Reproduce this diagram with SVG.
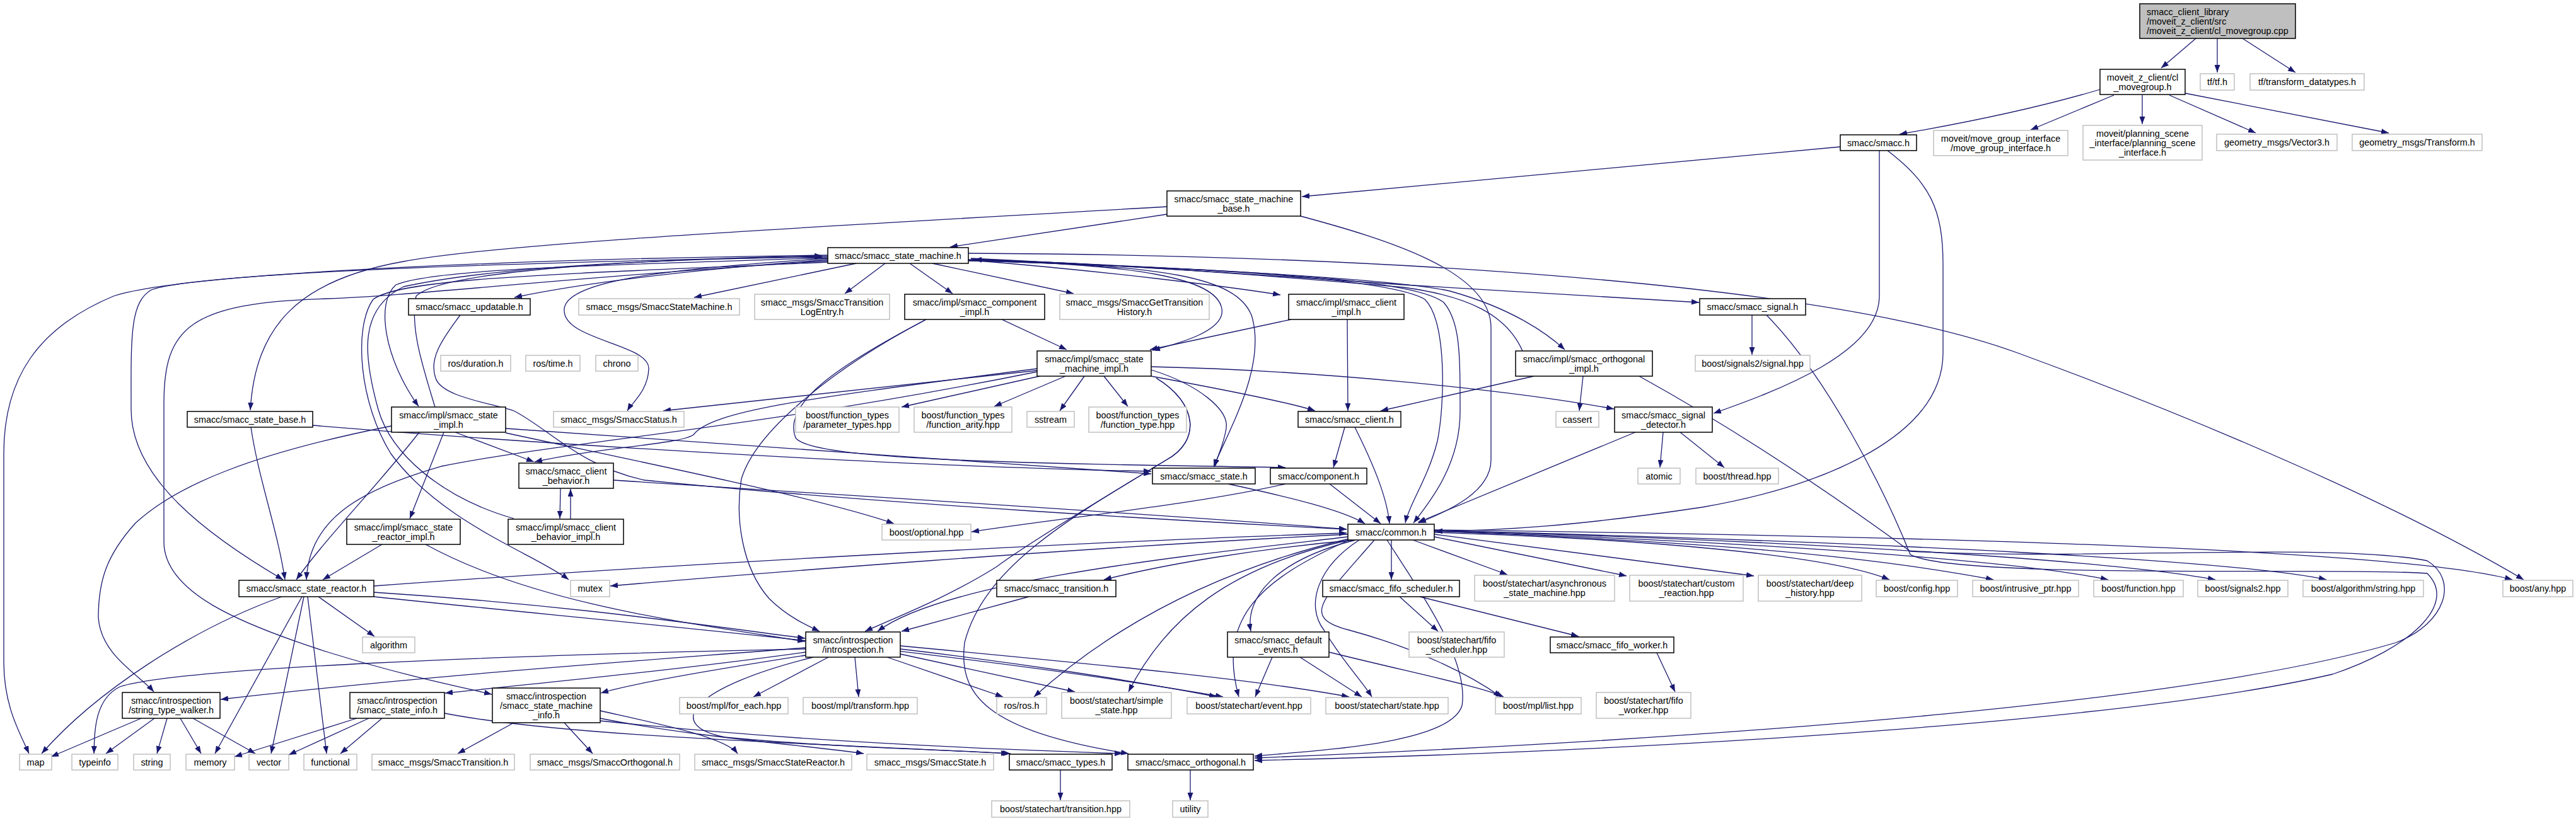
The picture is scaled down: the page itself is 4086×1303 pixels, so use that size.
<svg xmlns="http://www.w3.org/2000/svg" width="4086" height="1303" viewBox="0 0 4086 1303">
<defs>
<marker id="a" viewBox="0 0 12 9" refX="12" refY="4.5" markerWidth="12" markerHeight="9" orient="auto" markerUnits="userSpaceOnUse"><path d="M0,0 L12,4.5 L0,9 z" fill="#191970"/></marker>
<style>
text{font-family:"Liberation Sans",Arial,sans-serif;font-size:14.4px;fill:#000;text-anchor:middle}
.n rect{fill:#fff;stroke:#000;stroke-width:1.5}
.g rect{fill:#fff;stroke:#c0c0c0;stroke-width:1.5}
.r rect{fill:#bfbfbf;stroke:#000;stroke-width:1.5}
.r text{text-anchor:start}
#edges path{fill:none;stroke:#191970;stroke-width:1.3;marker-end:url(#a)}
</style>
</defs>
<rect width="4086" height="1303" fill="#fff"/>
<g id="edges">
<path d="M3483,61 L3428,108"/>
<path d="M3517,61 L3517,115"/>
<path d="M3557,61 L3641,115"/>
<path d="M3331,142 C3220,175 3100,198 3013,213"/>
<path d="M3353,151 L3221,206"/>
<path d="M3398,151 L3398,197"/>
<path d="M3441,151 L3578,211"/>
<path d="M3466,148 L3789,211"/>
<path d="M2919,233 L2065,312"/>
<path d="M2981,239 L2981,470 C2981,560 2820,620 2718,656"/>
<path d="M2994,239 C3060,290 3082,330 3082,420 L3082,560 C3082,690 2900,770 2700,805 C2500,835 2380,842 2276,843"/>
<path d="M1851,340 L1507,392"/>
<path d="M1851,328 C1300,360 800,385 640,415 C470,445 405,520 397,651"/>
<path d="M2063,343 C2200,380 2365,430 2365,520 L2365,730 C2365,780 2300,810 2250,830"/>
<path d="M1313,412 C1100,428 930,448 816,472"/>
<path d="M1358,418 L1101,472"/>
<path d="M1404,418 L1340,466"/>
<path d="M1443,418 L1511,466"/>
<path d="M1479,418 L1703,466"/>
<path d="M1540,413 C1750,430 1950,455 2031,468"/>
<path d="M1540,410 C1750,420 1950,432 2226,452 C2400,462 2550,470 2695,480"/>
<path d="M1540,411 C1800,422 2200,440 2300,462 C2400,490 2455,530 2482,555"/>
<path d="M2415,557 C2390,500 2330,470 2226,456 C2000,436 1750,418 1545,412"/>
<path d="M1536,412 C1800,420 1930,440 1938,490 C1944,525 1870,545 1828,556"/>
<path d="M1313,410 C1100,425 900,440 895,490 C890,540 1030,545 1029,585 C1028,620 1002,640 995,652"/>
<path d="M1313,409 C1000,420 690,425 628,452 C595,480 610,570 664,645"/>
<path d="M1313,407 C900,415 320,430 240,460 C205,480 208,540 208,650 C208,760 330,850 449,920"/>
<path d="M1313,405 C900,410 300,430 180,470 C60,520 6,600 6,720 L6,1050 C6,1120 30,1160 46,1196"/>
<path d="M1313,414 C900,440 650,470 520,474 C300,480 260,520 260,640 L260,860 C260,940 380,990 520,1035 C650,1075 730,1090 780,1102"/>
<path d="M1313,416 C900,435 640,440 592,475 C560,520 570,640 620,720 C700,830 850,880 902,920"/>
<path d="M1536,402 C2200,405 2900,450 3200,560 C3500,670 3800,800 4003,920"/>
<path d="M1536,414 C1850,420 1960,440 1985,500 C2010,580 1950,680 1925,741"/>
<path d="M1536,413 C1900,425 2200,440 2260,475 C2295,510 2292,640 2280,700 C2265,760 2235,800 2229,830"/>
<path d="M1536,413 C1950,428 2240,440 2290,480 C2316,510 2316,560 2316,653 C2316,740 2265,800 2242,830"/>
<path d="M815,823 C700,790 620,720 600,650 C575,560 570,490 640,455 C800,420 1100,410 1304,408"/>
<path d="M690,646 C670,580 650,520 660,470 C700,430 1000,412 1304,406"/>
<path d="M730,500 C700,540 680,570 691,600 C700,630 780,640 815,652 C870,680 920,740 1022,762 C1400,800 1900,828 2136,840"/>
<path d="M1469,507 C1330,580 1240,640 1262,695 C1290,730 1600,735 2039,742"/>
<path d="M1469,507 C1330,580 1200,680 1176,760 C1166,820 1176,900 1220,950 C1250,980 1285,995 1300,1002"/>
<path d="M1589,507 L1692,555"/>
<path d="M2048,507 L1824,555"/>
<path d="M2137,507 L2138,652"/>
<path d="M2433,597 L2190,652"/>
<path d="M2511,597 L2505,652"/>
<path d="M2600,597 C2750,680 2900,780 3030,875 C3300,890 3700,860 3850,890 C3900,920 3880,990 3800,1020 C3500,1110 2800,1170 1990,1203"/>
<path d="M2802,500 C2900,600 2990,780 3030,880 C3100,920 3700,900 3850,910 C3900,960 3820,1030 3700,1070 C3400,1140 2700,1190 1990,1207"/>
<path d="M2779,500 L2779,563"/>
<path d="M2594,686 L2249,829"/>
<path d="M2638,686 L2633,742"/>
<path d="M2665,686 L2735,742"/>
<path d="M2133,678 L2115,742"/>
<path d="M2149,678 C2180,740 2200,790 2204,831"/>
<path d="M2109,768 L2190,831"/>
<path d="M2039,768 C1900,800 1700,820 1541,844"/>
<path d="M1649,597 L1430,646"/>
<path d="M1690,597 L1577,645"/>
<path d="M1720,597 L1681,652"/>
<path d="M1751,597 L1789,645"/>
<path d="M1645,588 L1052,652"/>
<path d="M1826,587 C1900,610 1950,650 1945,680 C1940,710 1930,725 1927,741"/>
<path d="M1826,582 C2100,588 2400,620 2560,649"/>
<path d="M1826,597 C1950,620 2050,640 2086,652"/>
<path d="M1834,600 C1900,640 1905,700 1850,730 C1700,820 1560,900 1530,1020 C1520,1100 1560,1160 1790,1196"/>
<path d="M1834,600 C1900,640 1905,700 1850,730 C1700,820 1620,870 1580,900 C1500,950 1420,980 1372,1002"/>
<path d="M1645,585 C1300,630 1130,650 1100,690 C1080,705 950,710 848,733"/>
<path d="M1645,590 C1200,680 900,700 700,740 C560,780 490,830 486,920"/>
<path d="M722,686 L847,733"/>
<path d="M704,686 L650,823"/>
<path d="M665,686 C600,770 520,850 470,920"/>
<path d="M621,676 C400,720 280,770 215,830 C170,880 156,920 156,980 C160,1040 220,1070 244,1098"/>
<path d="M802,680 C1100,700 1500,730 1826,752"/>
<path d="M802,687 C1000,730 1300,790 1418,831"/>
<path d="M495,675 C800,700 1400,740 1826,748"/>
<path d="M398,678 C410,760 440,840 452,920"/>
<path d="M889,775 L888,823"/>
<path d="M905,824 L905,776"/>
<path d="M973,762 C1400,790 1900,820 2136,840"/>
<path d="M606,864 L512,920"/>
<path d="M675,864 C850,960 1100,990 1277,1018"/>
<path d="M505,947 L594,1010"/>
<path d="M447,947 C300,1000 150,1100 66,1196"/>
<path d="M479,947 L341,1196"/>
<path d="M482,947 L430,1196"/>
<path d="M488,947 L518,1196"/>
<path d="M593,940 C900,960 1100,990 1277,1013"/>
<path d="M593,947 C1000,990 1500,1030 1940,1106"/>
<path d="M593,930 C1000,900 1700,860 2136,846"/>
<path d="M1314,1043 L1195,1106"/>
<path d="M1356,1043 L1362,1106"/>
<path d="M1407,1043 L1591,1106"/>
<path d="M1428,1038 L1705,1098"/>
<path d="M1428,1030 C1600,1050 1800,1080 1930,1106"/>
<path d="M1428,1025 C1800,1060 2000,1080 2140,1106"/>
<path d="M1278,1030 C800,1040 280,1060 190,1090 C150,1110 150,1160 149,1196"/>
<path d="M1278,1028 C1000,1050 700,1070 350,1110"/>
<path d="M1278,1035 C1100,1060 900,1080 706,1100"/>
<path d="M1278,1040 C1150,1060 1000,1085 953,1100"/>
<path d="M1290,1043 C1100,1090 1050,1150 1150,1170 C1300,1185 1500,1190 1603,1196"/>
<path d="M1632,947 L1430,1002"/>
<path d="M2018,1043 L1991,1106"/>
<path d="M2062,1043 L2160,1106"/>
<path d="M2108,1035 C2250,1070 2350,1090 2385,1106"/>
<path d="M2220,947 L2281,1002"/>
<path d="M2252,947 L2504,1010"/>
<path d="M2628,1036 L2657,1098"/>
<path d="M1682,1222 L1682,1270"/>
<path d="M1888,1222 L1888,1270"/>
<path d="M224,1140 L81,1201"/>
<path d="M245,1140 L168,1196"/>
<path d="M265,1140 L249,1196"/>
<path d="M286,1140 L319,1196"/>
<path d="M306,1140 L405,1196"/>
<path d="M566,1140 L372,1201"/>
<path d="M585,1140 L458,1198"/>
<path d="M606,1140 L540,1196"/>
<path d="M705,1132 C900,1170 1300,1180 1600,1196"/>
<path d="M815,1147 L726,1196"/>
<path d="M895,1147 L940,1196"/>
<path d="M952,1128 C1050,1150 1150,1170 1170,1196"/>
<path d="M952,1140 C1100,1170 1300,1185 1370,1196"/>
<path d="M952,1144 C1200,1170 1450,1185 1780,1196"/>
<path d="M2138,848 C1700,870 1200,910 968,930"/>
<path d="M2138,852 C1900,880 1500,920 1392,1002"/>
<path d="M2150,857 C2000,870 1850,895 1751,920"/>
<path d="M2207,857 L2207,920"/>
<path d="M2241,857 L2391,912"/>
<path d="M2275,852 L2580,914"/>
<path d="M2275,848 L2782,914"/>
<path d="M2275,845 C2600,855 2900,880 2997,920"/>
<path d="M2275,843 C2700,860 2950,880 3162,920"/>
<path d="M2275,843 C2800,860 3200,890 3344,920"/>
<path d="M2275,842 C2900,860 3350,890 3514,920"/>
<path d="M2275,842 C3000,860 3550,890 3690,920"/>
<path d="M2275,841 C3000,850 3800,870 3985,920"/>
<path d="M2150,857 C2020,890 1975,950 1984,1002"/>
<path d="M2140,857 C1950,900 1850,980 1790,1098"/>
<path d="M2140,857 C2000,920 1930,980 1965,1106"/>
<path d="M2140,855 C1950,900 1780,980 1640,1106"/>
<path d="M2156,857 C2090,900 2070,960 2100,1000 C2130,1050 2160,1080 2176,1106"/>
<path d="M2180,857 C2100,950 2060,980 2140,1000 C2250,1030 2330,1070 2381,1106"/>
<path d="M2200,857 C2260,950 2330,1050 2319,1120 C2300,1180 2100,1190 1990,1200"/>
<path d="M1948,768 C2050,790 2130,810 2165,831"/>
</g>
<g id="n_root" class="r"><rect x="3394" y="6" width="247" height="55"/><text x="3405" y="23.5">smacc_client_library</text><text x="3405" y="38.5">/moveit_z_client/src</text><text x="3405" y="53.5">/moveit_z_client/cl_movegroup.cpp</text></g>
<g id="n_mg" class="n"><rect x="3331" y="110" width="135" height="40"/><text x="3398.5" y="127.5">moveit_z_client/cl</text><text x="3398.5" y="142.5">_movegroup.h</text></g>
<g id="n_tf" class="g"><rect x="3490" y="117" width="54" height="26"/><text x="3517" y="135">tf/tf.h</text></g>
<g id="n_tfd" class="g"><rect x="3569" y="117" width="181" height="26"/><text x="3659.5" y="135">tf/transform_datatypes.h</text></g>
<g id="n_smacc" class="n"><rect x="2919" y="214" width="121" height="25"/><text x="2979.5" y="231.5">smacc/smacc.h</text></g>
<g id="n_mgi" class="g"><rect x="3067" y="207" width="213" height="40"/><text x="3173.5" y="224.5">moveit/move_group_interface</text><text x="3173.5" y="239.5">/move_group_interface.h</text></g>
<g id="n_psi" class="g"><rect x="3304" y="199" width="189" height="55"/><text x="3398.5" y="216.5">moveit/planning_scene</text><text x="3398.5" y="231.5">_interface/planning_scene</text><text x="3398.5" y="246.5">_interface.h</text></g>
<g id="n_v3" class="g"><rect x="3516" y="213" width="191" height="26"/><text x="3611.5" y="231">geometry_msgs/Vector3.h</text></g>
<g id="n_tr" class="g"><rect x="3731" y="213" width="206" height="26"/><text x="3834" y="231">geometry_msgs/Transform.h</text></g>
<g id="n_smb" class="n"><rect x="1851" y="303" width="212" height="40"/><text x="1957" y="320.5">smacc/smacc_state_machine</text><text x="1957" y="335.5">_base.h</text></g>
<g id="n_sm" class="n"><rect x="1313" y="393" width="223" height="25"/><text x="1424.5" y="410.5">smacc/smacc_state_machine.h</text></g>
<g id="n_upd" class="n"><rect x="648" y="474" width="193" height="26"/><text x="744.5" y="492">smacc/smacc_updatable.h</text></g>
<g id="n_msm" class="g"><rect x="918" y="474" width="255" height="26"/><text x="1045.5" y="492">smacc_msgs/SmaccStateMachine.h</text></g>
<g id="n_tle" class="g"><rect x="1197" y="467" width="214" height="40"/><text x="1304" y="484.5">smacc_msgs/SmaccTransition</text><text x="1304" y="499.5">LogEntry.h</text></g>
<g id="n_cimp" class="n"><rect x="1435" y="467" width="222" height="40"/><text x="1546" y="484.5">smacc/impl/smacc_component</text><text x="1546" y="499.5">_impl.h</text></g>
<g id="n_gth" class="g"><rect x="1681" y="467" width="237" height="40"/><text x="1799.5" y="484.5">smacc_msgs/SmaccGetTransition</text><text x="1799.5" y="499.5">History.h</text></g>
<g id="n_clim" class="n"><rect x="2044" y="467" width="183" height="40"/><text x="2135.5" y="484.5">smacc/impl/smacc_client</text><text x="2135.5" y="499.5">_impl.h</text></g>
<g id="n_sig" class="n"><rect x="2696" y="474" width="168" height="26"/><text x="2780" y="492">smacc/smacc_signal.h</text></g>
<g id="n_dur" class="g"><rect x="699" y="564" width="111" height="25"/><text x="754.5" y="581.5">ros/duration.h</text></g>
<g id="n_time" class="g"><rect x="834" y="564" width="86" height="25"/><text x="877" y="581.5">ros/time.h</text></g>
<g id="n_chr" class="g"><rect x="945" y="564" width="67" height="25"/><text x="978.5" y="581.5">chrono</text></g>
<g id="n_smi" class="n"><rect x="1645" y="557" width="181" height="40"/><text x="1735.5" y="574.5">smacc/impl/smacc_state</text><text x="1735.5" y="589.5">_machine_impl.h</text></g>
<g id="n_oim" class="n"><rect x="2404" y="557" width="217" height="40"/><text x="2512.5" y="574.5">smacc/impl/smacc_orthogonal</text><text x="2512.5" y="589.5">_impl.h</text></g>
<g id="n_s2s" class="g"><rect x="2689" y="564" width="182" height="25"/><text x="2780" y="581.5">boost/signals2/signal.hpp</text></g>
<g id="n_sb" class="n"><rect x="297" y="653" width="199" height="25"/><text x="396.5" y="670.5">smacc/smacc_state_base.h</text></g>
<g id="n_sim" class="n"><rect x="621" y="646" width="181" height="40"/><text x="711.5" y="663.5">smacc/impl/smacc_state</text><text x="711.5" y="678.5">_impl.h</text></g>
<g id="n_sts" class="g"><rect x="878" y="653" width="207" height="25"/><text x="981.5" y="670.5">smacc_msgs/SmaccStatus.h</text></g>
<g id="n_ftp" class="g"><rect x="1262" y="646" width="164" height="40"/><text x="1344" y="663.5">boost/function_types</text><text x="1344" y="678.5">/parameter_types.hpp</text></g>
<g id="n_fta" class="g"><rect x="1450" y="646" width="155" height="40"/><text x="1527.5" y="663.5">boost/function_types</text><text x="1527.5" y="678.5">/function_arity.hpp</text></g>
<g id="n_ss" class="g"><rect x="1629" y="653" width="75" height="25"/><text x="1666.5" y="670.5">sstream</text></g>
<g id="n_ftt" class="g"><rect x="1727" y="646" width="155" height="40"/><text x="1804.5" y="663.5">boost/function_types</text><text x="1804.5" y="678.5">/function_type.hpp</text></g>
<g id="n_cl" class="n"><rect x="2059" y="653" width="163" height="25"/><text x="2140.5" y="670.5">smacc/smacc_client.h</text></g>
<g id="n_cas" class="g"><rect x="2468" y="653" width="68" height="25"/><text x="2502" y="670.5">cassert</text></g>
<g id="n_sd" class="n"><rect x="2561" y="646" width="155" height="40"/><text x="2638.5" y="663.5">smacc/smacc_signal</text><text x="2638.5" y="678.5">_detector.h</text></g>
<g id="n_cb" class="n"><rect x="823" y="735" width="150" height="40"/><text x="898" y="752.5">smacc/smacc_client</text><text x="898" y="767.5">_behavior.h</text></g>
<g id="n_st" class="n"><rect x="1828" y="743" width="163" height="25"/><text x="1909.5" y="760.5">smacc/smacc_state.h</text></g>
<g id="n_comp" class="n"><rect x="2015" y="743" width="153" height="25"/><text x="2091.5" y="760.5">smacc/component.h</text></g>
<g id="n_atom" class="g"><rect x="2598" y="743" width="67" height="25"/><text x="2631.5" y="760.5">atomic</text></g>
<g id="n_thr" class="g"><rect x="2690" y="743" width="131" height="25"/><text x="2755.5" y="760.5">boost/thread.hpp</text></g>
<g id="n_srim" class="n"><rect x="550" y="824" width="180" height="40"/><text x="640" y="841.5">smacc/impl/smacc_state</text><text x="640" y="856.5">_reactor_impl.h</text></g>
<g id="n_cbim" class="n"><rect x="806" y="824" width="183" height="40"/><text x="897.5" y="841.5">smacc/impl/smacc_client</text><text x="897.5" y="856.5">_behavior_impl.h</text></g>
<g id="n_opt" class="g"><rect x="1399" y="832" width="141" height="25"/><text x="1469.5" y="849.5">boost/optional.hpp</text></g>
<g id="n_com" class="n"><rect x="2138" y="832" width="137" height="25"/><text x="2206.5" y="849.5">smacc/common.h</text></g>
<g id="n_sr" class="n"><rect x="379" y="921" width="214" height="26"/><text x="486" y="939">smacc/smacc_state_reactor.h</text></g>
<g id="n_mtx" class="g"><rect x="905" y="921" width="62" height="26"/><text x="936" y="939">mutex</text></g>
<g id="n_trn" class="n"><rect x="1581" y="921" width="189" height="26"/><text x="1675.5" y="939">smacc/smacc_transition.h</text></g>
<g id="n_fsh" class="n"><rect x="2098" y="921" width="217" height="26"/><text x="2206.5" y="939">smacc/smacc_fifo_scheduler.h</text></g>
<g id="n_asm" class="g"><rect x="2339" y="913" width="222" height="41"/><text x="2450" y="931">boost/statechart/asynchronous</text><text x="2450" y="946">_state_machine.hpp</text></g>
<g id="n_cr" class="g"><rect x="2585" y="913" width="180" height="41"/><text x="2675" y="931">boost/statechart/custom</text><text x="2675" y="946">_reaction.hpp</text></g>
<g id="n_dh" class="g"><rect x="2789" y="913" width="164" height="41"/><text x="2871" y="931">boost/statechart/deep</text><text x="2871" y="946">_history.hpp</text></g>
<g id="n_cfg" class="g"><rect x="2976" y="921" width="129" height="26"/><text x="3040.5" y="939">boost/config.hpp</text></g>
<g id="n_ip" class="g"><rect x="3129" y="921" width="168" height="26"/><text x="3213" y="939">boost/intrusive_ptr.hpp</text></g>
<g id="n_fn" class="g"><rect x="3321" y="921" width="142" height="26"/><text x="3392" y="939">boost/function.hpp</text></g>
<g id="n_s2" class="g"><rect x="3486" y="921" width="143" height="26"/><text x="3557.5" y="939">boost/signals2.hpp</text></g>
<g id="n_as" class="g"><rect x="3653" y="921" width="191" height="26"/><text x="3748.5" y="939">boost/algorithm/string.hpp</text></g>
<g id="n_any" class="g"><rect x="3970" y="921" width="111" height="26"/><text x="4025.5" y="939">boost/any.hpp</text></g>
<g id="n_alg" class="g"><rect x="575" y="1011" width="83" height="25"/><text x="616.5" y="1028.5">algorithm</text></g>
<g id="n_int" class="n"><rect x="1278" y="1003" width="150" height="40"/><text x="1353" y="1020.5">smacc/introspection</text><text x="1353" y="1035.5">/introspection.h</text></g>
<g id="n_de" class="n"><rect x="1947" y="1003" width="161" height="40"/><text x="2027.5" y="1020.5">smacc/smacc_default</text><text x="2027.5" y="1035.5">_events.h</text></g>
<g id="n_fsp" class="g"><rect x="2235" y="1003" width="151" height="40"/><text x="2310.5" y="1020.5">boost/statechart/fifo</text><text x="2310.5" y="1035.5">_scheduler.hpp</text></g>
<g id="n_fw" class="n"><rect x="2459" y="1011" width="196" height="25"/><text x="2557" y="1028.5">smacc/smacc_fifo_worker.h</text></g>
<g id="n_stw" class="n"><rect x="194" y="1099" width="155" height="41"/><text x="271.5" y="1117">smacc/introspection</text><text x="271.5" y="1132">/string_type_walker.h</text></g>
<g id="n_si" class="n"><rect x="555" y="1099" width="150" height="41"/><text x="630" y="1117">smacc/introspection</text><text x="630" y="1132">/smacc_state_info.h</text></g>
<g id="n_smi2" class="n"><rect x="781" y="1092" width="171" height="55"/><text x="866.5" y="1109.5">smacc/introspection</text><text x="866.5" y="1124.5">/smacc_state_machine</text><text x="866.5" y="1139.5">_info.h</text></g>
<g id="n_fe" class="g"><rect x="1078" y="1107" width="172" height="26"/><text x="1164" y="1125">boost/mpl/for_each.hpp</text></g>
<g id="n_tf2" class="g"><rect x="1274" y="1107" width="181" height="26"/><text x="1364.5" y="1125">boost/mpl/transform.hpp</text></g>
<g id="n_ros" class="g"><rect x="1581" y="1107" width="79" height="26"/><text x="1620.5" y="1125">ros/ros.h</text></g>
<g id="n_ssh" class="g"><rect x="1684" y="1099" width="174" height="41"/><text x="1771" y="1117">boost/statechart/simple</text><text x="1771" y="1132">_state.hpp</text></g>
<g id="n_ev" class="g"><rect x="1883" y="1107" width="196" height="26"/><text x="1981" y="1125">boost/statechart/event.hpp</text></g>
<g id="n_sth" class="g"><rect x="2103" y="1107" width="194" height="26"/><text x="2200" y="1125">boost/statechart/state.hpp</text></g>
<g id="n_ml" class="g"><rect x="2372" y="1107" width="136" height="26"/><text x="2440" y="1125">boost/mpl/list.hpp</text></g>
<g id="n_fwh" class="g"><rect x="2532" y="1099" width="150" height="41"/><text x="2607" y="1117">boost/statechart/fifo</text><text x="2607" y="1132">_worker.hpp</text></g>
<g id="n_map" class="g"><rect x="31" y="1197" width="51" height="25"/><text x="56.5" y="1214.5">map</text></g>
<g id="n_typeinfo" class="g"><rect x="114" y="1197" width="73" height="25"/><text x="150.5" y="1214.5">typeinfo</text></g>
<g id="n_string" class="g"><rect x="212" y="1197" width="58" height="25"/><text x="241" y="1214.5">string</text></g>
<g id="n_memory" class="g"><rect x="295" y="1197" width="77" height="25"/><text x="333.5" y="1214.5">memory</text></g>
<g id="n_vector" class="g"><rect x="395" y="1197" width="63" height="25"/><text x="426.5" y="1214.5">vector</text></g>
<g id="n_functional" class="g"><rect x="482" y="1197" width="84" height="25"/><text x="524" y="1214.5">functional</text></g>
<g id="n_str" class="g"><rect x="590" y="1197" width="226" height="25"/><text x="703" y="1214.5">smacc_msgs/SmaccTransition.h</text></g>
<g id="n_sor" class="g"><rect x="841" y="1197" width="237" height="25"/><text x="959.5" y="1214.5">smacc_msgs/SmaccOrthogonal.h</text></g>
<g id="n_ssr" class="g"><rect x="1102" y="1197" width="249" height="25"/><text x="1226.5" y="1214.5">smacc_msgs/SmaccStateReactor.h</text></g>
<g id="n_sst" class="g"><rect x="1375" y="1197" width="201" height="25"/><text x="1475.5" y="1214.5">smacc_msgs/SmaccState.h</text></g>
<g id="n_types" class="n"><rect x="1601" y="1197" width="163" height="25"/><text x="1682.5" y="1214.5">smacc/smacc_types.h</text></g>
<g id="n_orth" class="n"><rect x="1789" y="1197" width="199" height="25"/><text x="1888.5" y="1214.5">smacc/smacc_orthogonal.h</text></g>
<g id="n_tp" class="g"><rect x="1573" y="1271" width="219" height="26"/><text x="1682.5" y="1289">boost/statechart/transition.hpp</text></g>
<g id="n_util" class="g"><rect x="1860" y="1271" width="56" height="26"/><text x="1888" y="1289">utility</text></g>
</svg>
